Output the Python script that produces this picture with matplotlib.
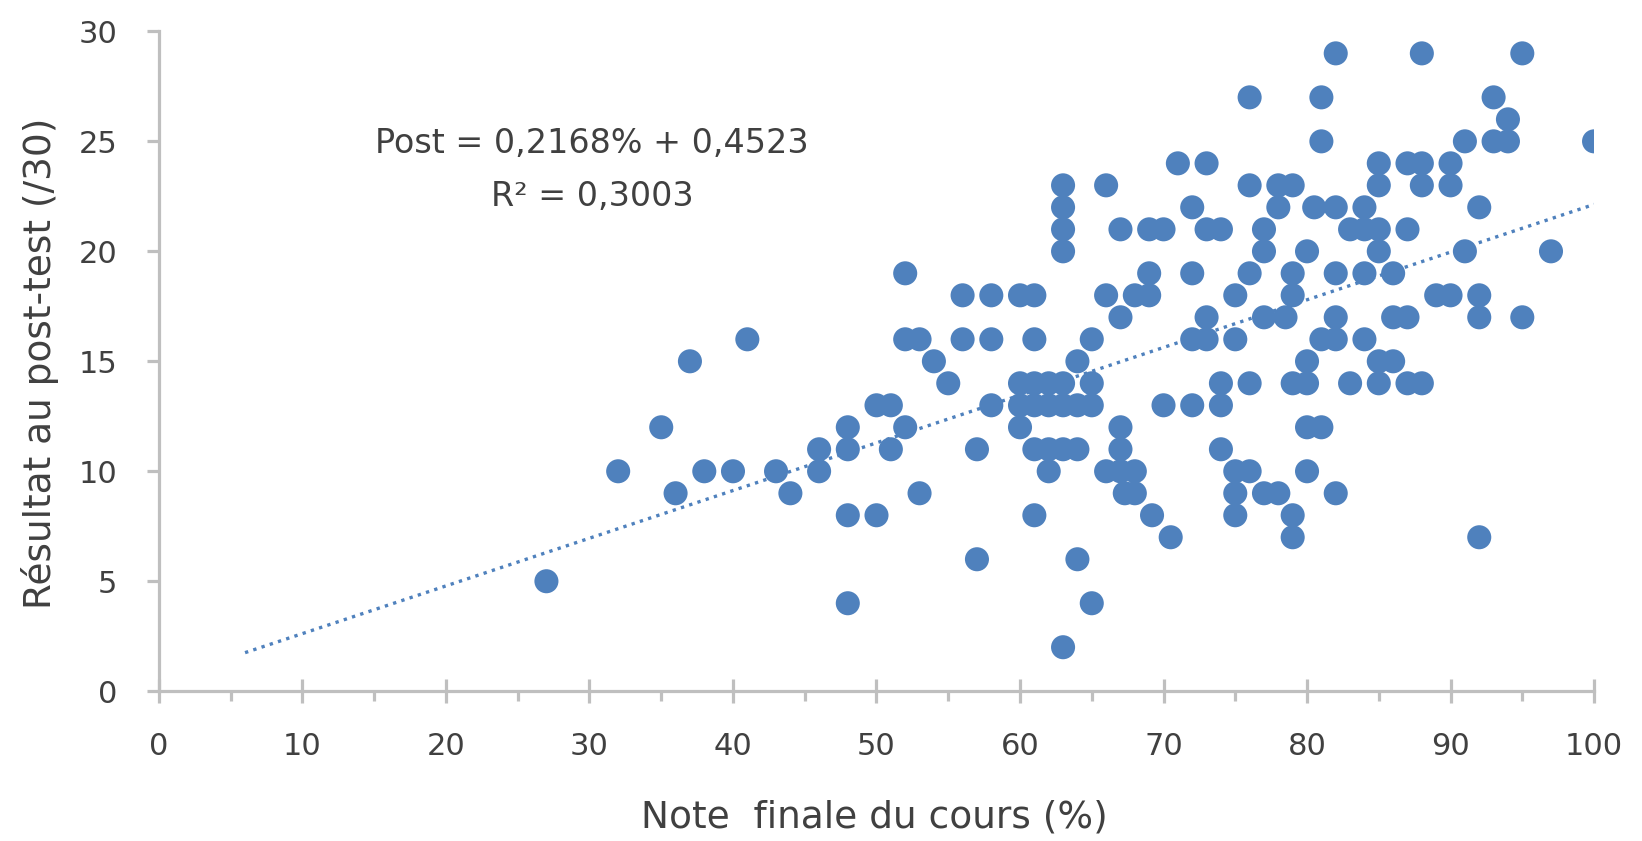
import matplotlib.pyplot as plt
import numpy as np
from matplotlib.ticker import MultipleLocator

# note finale du cours (%) et résultat au post-test (/30), groupés par note
note = [27, 32, 35, 36, 37, 38, 40, 41, 43, 44,
        46, 46, 48, 48, 48, 48, 50, 50, 51, 51,
        52, 52, 52, 53, 53, 54, 55, 56, 56, 57, 57,
        58, 58, 58, 60, 60, 60, 60,
        61, 61, 61, 61, 61, 61, 62, 62, 62, 62,
        63, 63, 63, 63, 63, 63, 63, 63,
        64, 64, 64, 64, 65, 65, 65, 65, 66, 66, 66,
        67, 67, 67, 67, 67, 67.3, 68, 68, 68,
        69, 69, 69, 69.2, 70, 70, 70.5, 71,
        72, 72, 72, 72, 73, 73, 73, 73, 74, 74, 74, 74,
        75, 75, 75, 75, 75, 76, 76, 76, 76, 76,
        77, 77, 77, 77, 78, 78, 78.5, 78,
        79, 79, 79, 79, 79, 79, 80, 80, 80, 80, 80, 80.5,
        81, 81, 81, 81, 82, 82, 82, 82, 82, 82,
        83, 83, 84, 84, 84, 84, 85, 85, 85, 85, 85, 85,
        86, 86, 86, 87, 87, 87, 87, 88, 88, 88, 88,
        89, 90, 90, 90, 91, 91, 92, 92, 92, 92,
        93, 93, 94, 94, 95, 95, 97, 100]
post = [5, 10, 12, 9, 15, 10, 10, 16, 10, 9,
        11, 10, 12, 11, 8, 4, 13, 8, 13, 11,
        19, 16, 12, 16, 9, 15, 14, 18, 16, 11, 6,
        18, 16, 13, 18, 14, 13, 12,
        18, 16, 14, 13, 11, 8, 14, 13, 11, 10,
        23, 22, 21, 20, 14, 13, 11, 2,
        15, 13, 11, 6, 16, 14, 13, 4, 23, 18, 10,
        21, 17, 12, 11, 10, 9, 18, 10, 9,
        21, 19, 18, 8, 21, 13, 7, 24,
        22, 19, 16, 13, 24, 21, 17, 16, 21, 14, 13, 11,
        18, 16, 10, 9, 8, 27, 23, 19, 14, 10,
        21, 20, 17, 9, 23, 22, 17, 9,
        23, 19, 18, 14, 8, 7, 20, 15, 14, 12, 10, 22,
        27, 25, 16, 12, 29, 22, 19, 17, 16, 9,
        21, 14, 22, 21, 19, 16, 24, 23, 21, 20, 15, 14,
        19, 17, 15, 24, 21, 17, 14, 29, 24, 23, 14,
        18, 24, 23, 18, 25, 20, 22, 18, 17, 7,
        27, 25, 26, 25, 29, 17, 20, 25]

# droite de tendance linéaire
pente = 0.2168
origine = 0.4523
r2 = 0.3003
tendance_x = [6, 100]

bleu = "#4F81BD"
gris = "#BFBFBF"
texte = "#404040"
plt.rcParams["font.family"] = ["DejaVu Sans"]

fig = plt.figure(figsize=(16.42, 8.41), dpi=100)
ax = fig.add_axes([0.0968, 0.1781, 0.874, 0.7846])

ax.scatter(note, post, s=300, color=bleu, edgecolors="none", zorder=3)

tx = np.array(tendance_x, dtype=float)
ax.plot(tx, pente * tx + origine, color=bleu, lw=2.4,
        linestyle=(0, (1, 1.6)), dash_capstyle="butt", zorder=4)

ax.set_xlim(0, 100)
ax.set_ylim(0, 30)
ax.xaxis.set_major_locator(MultipleLocator(10))
ax.xaxis.set_minor_locator(MultipleLocator(5))
ax.yaxis.set_major_locator(MultipleLocator(5))

for s in ["top", "right"]:
    ax.spines[s].set_visible(False)
for s in ["left", "bottom"]:
    ax.spines[s].set_color(gris)
    ax.spines[s].set_linewidth(2.3)

ax.tick_params(axis="x", which="major", direction="inout", length=17,
               width=2.3, color=gris, pad=21, labelsize=22, labelcolor=texte)
ax.tick_params(axis="x", which="minor", direction="out", length=7,
               width=2.3, color=gris)
ax.tick_params(axis="y", which="major", direction="out", length=9,
               width=2.3, color=gris, pad=21, labelsize=22, labelcolor=texte)

ax.set_xlabel("Note  finale du cours (%)", fontsize=27, color=texte, va="center")
ax.xaxis.set_label_coords(0.4985, -0.1907)
ax.set_ylabel("Résultat au post-test (/30)", fontsize=27, color=texte, va="center")
ax.yaxis.set_label_coords(-0.0831, 0.497)

ax.text(0.3017, 0.830, "Post = {:.4f}% + {:.4f}".format(pente, origine).replace(".", ","),
        transform=ax.transAxes, ha="center", va="center", fontsize=24, color=texte)
ax.text(0.3017, 0.749, "R² = {:.4f}".format(r2).replace(".", ","),
        transform=ax.transAxes, ha="center", va="center", fontsize=24, color=texte)

fig.savefig("out.png", dpi=100)
